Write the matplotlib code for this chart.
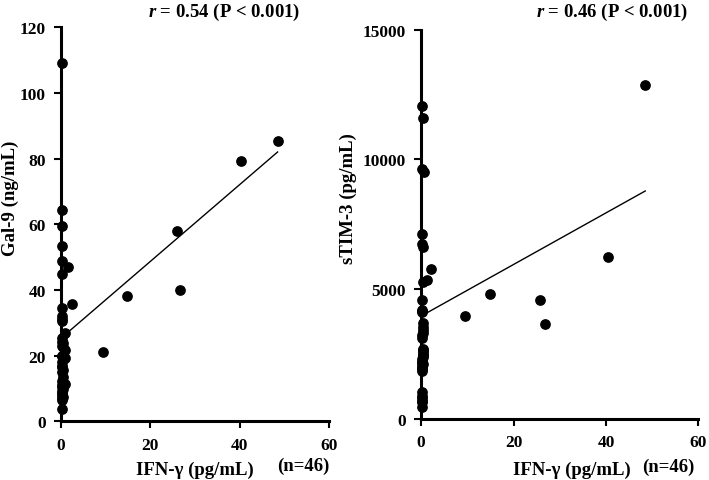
import numpy as np
from matplotlib import pyplot as plt

plt.rcParams['font.family'] = ['Liberation Serif', 'DejaVu Serif']
plt.rcParams['font.weight'] = 'bold'
plt.rcParams['mathtext.fontset'] = 'custom'
plt.rcParams['mathtext.it'] = 'Liberation Serif:italic:bold'
plt.rcParams['mathtext.rm'] = 'Liberation Serif:bold'

# left panel: IFN-g vs Gal-9
ifn_l = [0.2, 0.2, 0.2, 0.2, 0.2, 1.5, 0.2, 2.4, 0.2, 0.2, 0.2, 0.9, 0.2, 0.2, 0.2, 0.9,
         0.2, 0.9, 0.2, 0.2, 0.2, 0.2, 0.9, 0.2, 0.2, 0.2, 0.2, 0.2,
         0.2, 0.5, 0.2, 0.5, 0.2, 0.5, 0.2, 0.5, 0.2, 0.5, 0.2, 0.5,
         9.5, 14.8, 25.9, 26.6, 40.4, 48.5]
gal9 = [109.1, 64.4, 59.5, 53.3, 48.9, 46.9, 44.9, 35.7, 34.4, 32.2, 31.2, 26.8, 25.3, 24.1, 23.0, 21.8,
        20.0, 19.2, 18.0, 16.4, 14.9, 12.4, 11.4, 10.4, 9.3, 8.0, 7.0, 3.7,
        30.5, 22.5, 17.0, 13.5, 11.0, 9.8, 8.5, 7.5, 6.5, 15.5, 19.8, 23.8,
        21.2, 38.3, 58.1, 40.0, 79.2, 85.5]
fit_l = (25.3, 1.17)   # intercept, slope
line_l = (1.0, 48.5)

# right panel: IFN-g vs sTIM-3
ifn_r = [0.1, 0.4, 0.1, 0.6, 0.1, 0.1, 0.5, 2.2, 1.2, 0.5, 0.1, 0.1, 0.1, 0.5, 0.3, 0.1,
         0.5, 0.5, 0.3, 0.1, 0.1, 0.1, 0.1, 0.1, 0.1,
         0.3, 0.1, 0.5, 0.3, 0.1, 0.4, 0.1, 0.1, 0.1, 0.1, 0.4, 0.1, 0.5, 0.2, 0.1,
         9.5, 15.0, 25.8, 26.7, 40.4, 48.5]
stim3 = [12066, 11600, 9624, 9500, 7130, 6744, 6616, 5775, 5360, 5270, 4585, 4200, 4110, 3680, 3420, 3230,
         2710, 2520, 2390, 2200, 1940, 1030, 800, 650, 450,
         3300, 3100, 2650, 2450, 2300, 2100, 2050, 1850, 900, 700, 3550, 4150, 2600, 2150, 1950,
         3980, 4830, 4585, 3670, 6240, 12880]
fit_r = (3965, 99.4)
line_r = (0.0, 48.5)

fig = plt.figure(figsize=(7.09, 4.81), dpi=100)
ax1 = fig.add_axes([0.086, 0.122, 0.378, 0.819])
ax2 = fig.add_axes([0.594, 0.127, 0.391, 0.809])


def style(ax, ylim, yticks):
    ax.set_xlim(0, 60)
    ax.set_ylim(*ylim)
    ax.set_xticks([0, 20, 40, 60])
    ax.set_yticks(yticks)
    for s in ['top', 'right']:
        ax.spines[s].set_visible(False)
    for s in ['left', 'bottom']:
        ax.spines[s].set_linewidth(2.2)
    ax.tick_params(width=1.5, length=5, labelsize=12.5, pad=6)
    for lab in ax.get_xticklabels() + ax.get_yticklabels():
        lab.set_fontweight('bold')


ax1.scatter(ifn_l, gal9, s=45, color='black', zorder=3, clip_on=False)
xs = np.array(line_l)
ax1.plot(xs, fit_l[0] + fit_l[1] * xs, color='black', lw=1)
style(ax1, (0, 120), [0, 20, 40, 60, 80, 100, 120])

ax2.scatter(ifn_r, stim3, s=45, color='black', zorder=3, clip_on=False)
xs = np.array(line_r)
ax2.plot(xs, fit_r[0] + fit_r[1] * xs, color='black', lw=1)
style(ax2, (0, 15000), [0, 5000, 10000, 15000])

fs = 13.5
fig.text(224 / 709, 1 - 12 / 481, r'$r$ = 0.54 (P < 0.001)', ha='center', va='center', fontsize=fs, fontweight='bold')
fig.text(612 / 709, 1 - 12 / 481, r'$r$ = 0.46 (P < 0.001)', ha='center', va='center', fontsize=fs, fontweight='bold')
fig.text(10 / 709, 1 - 198 / 481, 'Gal-9 (ng/mL)', rotation=90, ha='center', va='center', fontsize=fs, fontweight='bold')
fig.text(348 / 709, 1 - 199 / 481, 'sTIM-3 (pg/mL)', rotation=90, ha='center', va='center', fontsize=fs, fontweight='bold')
fig.text(195 / 709, 1 - 470 / 481, 'IFN-γ (pg/mL)', ha='center', va='center', fontsize=fs, fontweight='bold')
fig.text(303 / 709, 1 - 466 / 481, '(n=46)', ha='center', va='center', fontsize=fs, fontweight='bold')
fig.text(572 / 709, 1 - 470 / 481, 'IFN-γ (pg/mL)', ha='center', va='center', fontsize=fs, fontweight='bold')
fig.text(668 / 709, 1 - 467 / 481, '(n=46)', ha='center', va='center', fontsize=fs, fontweight='bold')

plt.savefig('out.png', dpi=100)
